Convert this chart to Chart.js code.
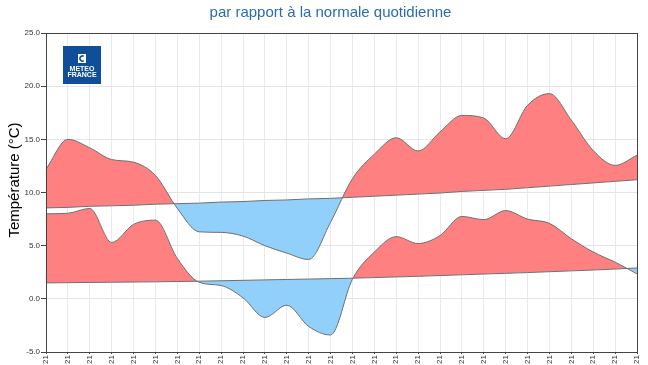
<!DOCTYPE html>
<html>
<head>
<meta charset="utf-8">
<script src="https://cdn.jsdelivr.net/npm/chart.js@4/dist/chart.umd.min.js"></script>
<style>
  html, body { margin: 0; padding: 0; background: #ffffff; }
  #wrap { width: 648px; height: 365px; position: relative; }
</style>
</head>
<body>
<div id="wrap"><canvas id="c" width="648" height="365"></canvas></div>
<script>
// ---- Data ----
const categories = ["21","21","21","21","21","21","21","21","21","21","21","21","21","21",
                    "21","21","21","21","21","21","21","21","21","21","21","21","21","21"];

const tmaxObserved = [12.2, 15.0, 14.2, 13.1, 12.85, 11.6, 8.5, 6.3, 6.25, 5.9, 5.0, 4.3, 3.7, 7.2,
                      11.3, 13.6, 15.15, 13.9, 15.7, 17.25, 17.0, 15.05, 18.2, 19.3, 16.8, 13.95, 12.55, 13.5];
const tmaxNormal   = [8.55, 8.6, 8.7, 8.75, 8.8, 8.9, 8.95, 9.0, 9.1, 9.15, 9.25, 9.3, 9.4, 9.45,
                      9.55, 9.65, 9.75, 9.85, 9.95, 10.1, 10.2, 10.3, 10.45, 10.6, 10.75, 10.9, 11.05, 11.2];
const tminObserved = [8.0, 8.05, 8.5, 5.3, 7.0, 7.4, 3.8, 1.55, 1.25, 0.1, -1.75, -0.6, -2.6, -3.4,
                      1.85, 4.4, 5.85, 5.2, 5.95, 7.75, 7.45, 8.3, 7.5, 7.1, 5.65, 4.4, 3.45, 2.35];
const tminNormal   = [1.5, 1.52, 1.54, 1.56, 1.58, 1.6, 1.63, 1.66, 1.7, 1.74, 1.78, 1.82, 1.86, 1.9,
                      1.94, 2.0, 2.06, 2.12, 2.19, 2.26, 2.33, 2.4, 2.47, 2.55, 2.63, 2.71, 2.8, 2.9];

const yTicks = [-5, 0, 5, 10, 15, 20, 25];

const titleText = "par rapport à la normale quotidienne";
const yTitleText = "Température (°C)";
const logoLines = ["METEO", "FRANCE"];

// ---- Styles ----
const RED = "#ff8080";
const BLUE = "#90d0fa";
const LINE = "#707070";
const FONT = '"Liberation Sans", Arial, Helvetica, sans-serif';

Chart.defaults.font.family = FONT;

const decorPlugin = {
  id: "decor",
  afterDraw(chart) {
    const ctx = chart.ctx;
    const a = chart.chartArea;
    ctx.save();
    // frame
    ctx.strokeStyle = "#444444";
    ctx.lineWidth = 1;
    ctx.strokeRect(Math.round(a.left) + 0.5, Math.round(a.top) + 0.5,
                   Math.round(a.right - a.left), Math.round(a.bottom - a.top));
    // title
    ctx.fillStyle = "#2b6cb0";
    ctx.font = "15px " + FONT;
    ctx.textAlign = "center";
    ctx.textBaseline = "middle";
    ctx.fillText(titleText, 330.5, 13);
    // y axis title
    ctx.save();
    ctx.translate(15, 180);
    ctx.rotate(-Math.PI / 2);
    ctx.fillStyle = "#000000";
    ctx.font = "15px " + FONT;
    ctx.fillText(yTitleText, 0, 0);
    ctx.restore();
    // logo
    const lx = a.left + 17, ly = a.top + 13, ls = 38;
    ctx.fillStyle = "#0e4f97";
    ctx.fillRect(lx, ly, ls, ls);
    ctx.fillStyle = "#ffffff";
    ctx.fillRect(lx + 15, ly + 8, 8, 9);
    ctx.strokeStyle = "#0e4f97";
    ctx.lineWidth = 1.6;
    ctx.beginPath();
    ctx.arc(lx + 19.5, ly + 12.5, 2.6, Math.PI * 0.35, Math.PI * 1.65);
    ctx.stroke();
    ctx.fillStyle = "#ffffff";
    ctx.font = "bold 7px " + FONT;
    ctx.textAlign = "center";
    ctx.textBaseline = "middle";
    ctx.fillText(logoLines[0], lx + ls / 2, ly + 23);
    ctx.fillText(logoLines[1], lx + ls / 2, ly + 29.5);
    ctx.restore();
  }
};

new Chart(document.getElementById("c"), {
  type: "line",
  data: {
    labels: categories,
    datasets: [
      { label: "Normale Tmax", data: tmaxNormal, borderColor: LINE, borderWidth: 1,
        pointRadius: 0, fill: false, tension: 0 },
      { label: "Tmax", data: tmaxObserved, borderColor: LINE, borderWidth: 1,
        pointRadius: 0, cubicInterpolationMode: "monotone",
        fill: { target: 0, above: RED, below: BLUE } },
      { label: "Normale Tmin", data: tminNormal, borderColor: LINE, borderWidth: 1,
        pointRadius: 0, fill: false, tension: 0 },
      { label: "Tmin", data: tminObserved, borderColor: LINE, borderWidth: 1,
        pointRadius: 0, cubicInterpolationMode: "monotone",
        fill: { target: 2, above: RED, below: BLUE } }
    ]
  },
  options: {
    responsive: false,
    animation: false,
    devicePixelRatio: 1,
    layout: { padding: { top: 33, right: 11, left: 0, bottom: 0 } },
    plugins: {
      legend: { display: false },
      title: { display: false },
      tooltip: { enabled: false },
      filler: { propagate: false }
    },
    scales: {
      x: {
        type: "category",
        offset: false,
        afterFit(scale) { scale.height = 13; },
        grid: { color: "#ebe7ee", lineWidth: 1, drawTicks: true, tickLength: 2, tickColor: "#444444" },
        border: { display: true, color: "#444444" },
        ticks: { autoSkip: false, minRotation: 90, maxRotation: 90, padding: 1,
                 color: "#333333", font: { size: 8 } }
      },
      y: {
        min: -5, max: 25,
        afterFit(scale) { scale.width = 46; },
        afterBuildTicks(scale) { scale.ticks = yTicks.map(v => ({ value: v })); },
        grid: { color: "#e4e4e4", lineWidth: 1, tickLength: 5, tickColor: "#444444" },
        border: { display: true, color: "#444444" },
        ticks: { padding: 1, color: "#333333", font: { size: 8 },
                 callback: v => Number(v).toFixed(1) },
        title: { display: false }
      }
    }
  },
  plugins: [decorPlugin]
});
</script>
</body>
</html>
